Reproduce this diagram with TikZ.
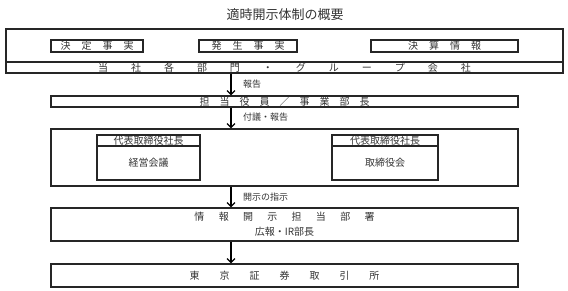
\documentclass[tikz,border=0pt]{standalone}
\usepackage{fontspec}
\setmainfont{Noto Sans CJK JP}
\usetikzlibrary{arrows.meta}
\makeatletter
\def\myspaced#1#2{\def\my@gap{#1}\my@spA#2\relax}
\def\my@spA#1{\ifx#1\relax\else#1\expandafter\my@spB\fi}
\def\my@spB#1{\ifx#1\relax\else\kern\my@gap #1\expandafter\my@spB\fi}
\makeatother
\tikzset{
  boxst/.style={draw=black!85, line width=1.1pt, inner sep=0pt, align=center,
    text=black!80, font=\fontsize{10}{15}\selectfont},
  lbl/.style={inner sep=0pt, anchor=west, text=black!80, font=\fontsize{9}{11}\selectfont},
  arr/.style={line width=1.3pt, -{Straight Barb[length=4pt,width=8pt,line width=1.3pt]}},
}
\begin{document}
\begin{tikzpicture}[x=1pt,y=-1pt]
\useasboundingbox (0,0) rectangle (568,291);
\node[text=black!80, font=\fontsize{13}{15}\selectfont] (title) at (285,15) {適時開示体制の概要};
% top block
\node[boxst, minimum width=557pt, minimum height=33pt] (outer) at (284.5,45.5) {};
\node[boxst, minimum width=557pt, minimum height=11pt] (dept) at (284.5,67.5) {\myspaced{23pt}{当社各部門・グループ会社}};
\node[boxst, minimum width=92pt, minimum height=12pt] (kettei) at (97,46) {\myspaced{11pt}{決定事実}};
\node[boxst, minimum width=98pt, minimum height=12pt] (hassei) at (248,46) {\myspaced{11pt}{発生事実}};
\node[boxst, minimum width=147pt, minimum height=12pt] (kessan) at (444.5,46) {\myspaced{11pt}{決算情報}};
% tanto
\node[boxst, minimum width=467pt, minimum height=11pt] (tanto) at (284.5,101.5) {\myspaced{10pt}{担当役員／事業部長}};
% big box
\node[boxst, minimum width=467pt, minimum height=57pt] (big) at (284.5,157.5) {};
\node[boxst, minimum width=103pt, minimum height=11pt] (lhead) at (148.5,140.5) {代表取締役社長};
\node[boxst, minimum width=103pt, minimum height=34pt] (lbody) at (148.5,163) {経営会議};
\node[boxst, minimum width=106pt, minimum height=11pt] (rhead) at (385,140.5) {代表取締役社長};
\node[boxst, minimum width=106pt, minimum height=34pt] (rbody) at (385,163) {取締役会};
% joho
\node[boxst, minimum width=467pt, minimum height=33pt] (joho) at (284.5,224.5) {\myspaced{14.3pt}{情報開示担当部署}\\広報・IR部長};
% tse
\node[boxst, minimum width=467pt, minimum height=23pt] (tse) at (284.5,275.5) {\myspaced{20pt}{東京証券取引所}};
% arrows
\coordinate (ax) at (231,0);
\draw[arr] (dept.south -| ax) -- (tanto.north -| ax);
\draw[arr] (tanto.south -| ax) -- (big.north -| ax);
\draw[arr] (big.south -| ax) -- (joho.north -| ax);
\draw[arr] (joho.south -| ax) -- (tse.north -| ax);
% labels
\node[lbl] (l1) at (243,84) {報告};
\node[lbl] (l2) at (243,117) {付議・報告};
\node[lbl] (l3) at (243,197) {開示の指示};
\end{tikzpicture}
\end{document}
